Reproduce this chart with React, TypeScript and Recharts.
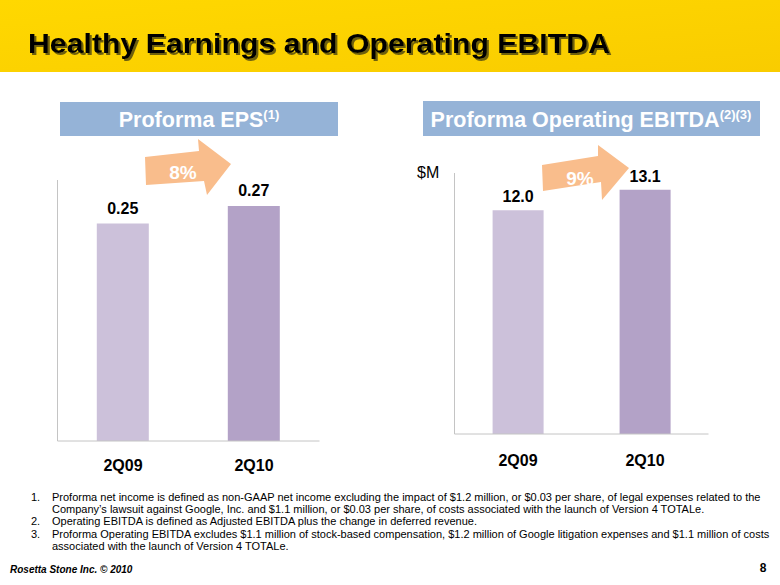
import React from 'react';
import { BarChart, Bar, XAxis, YAxis, Cell, LabelList } from 'recharts';

const categories = ['2Q09', '2Q10'];
const epsValues = [0.25, 0.27];
const ebitdaValues = [12.0, 13.1];
const growthLabels = ['8%', '9%'];
const barColors = ['#ccc1da', '#b3a2c7'];

const footnotes = [
  { num: '1.', text: 'Proforma net income is defined as non-GAAP net income excluding the impact of $1.2 million, or $0.03 per share, of legal expenses related to the' },
  { num: '', text: 'Company\u2019s lawsuit against Google, Inc. and $1.1 million, or $0.03 per share, of costs associated with the launch of Version 4 TOTALe.' },
  { num: '2.', text: 'Operating EBITDA is defined as Adjusted EBITDA plus the change in deferred revenue.' },
  { num: '3.', text: 'Proforma Operating EBITDA excludes $1.1 million of stock-based compensation, $1.2 million of Google litigation expenses and $1.1 million of costs' },
  { num: '', text: 'associated with the launch of Version 4 TOTALe.' },
];

const font = '"Liberation Sans", Arial, sans-serif';

const epsData = categories.map((c, i) => ({ period: c, value: epsValues[i] }));
const ebitdaData = categories.map((c, i) => ({ period: c, value: ebitdaValues[i] }));

const axisColor = '#c4c4c4';

const makeTick = (dy: number) => (props: any) => (
  <text x={props.x} y={props.y} dy={dy} textAnchor="middle" fontFamily={font} fontWeight="bold" fontSize={16} fill="#000">
    {props.payload.value}
  </text>
);

const Slide = () => (
  <svg width={780} height={585} style={{ position: 'absolute', left: 0, top: 0 }}>
    <defs>
      <linearGradient id="hdr" x1="0" y1="0" x2="1" y2="1">
        <stop offset="0" stopColor="#ffd800" />
        <stop offset="1" stopColor="#f9cc00" />
      </linearGradient>
      <filter id="shadow" x="-5%" y="-20%" width="110%" height="150%">
        <feDropShadow dx={2} dy={2} stdDeviation={0.4} floodColor="#6e600c" floodOpacity={1} />
      </filter>
    </defs>
    <rect x={0} y={0} width={780} height={72} fill="url(#hdr)" />
    <text x={28} y={53} fontFamily={font} fontWeight="bold" fontSize={28} fill="#000" textLength={582}
      lengthAdjust="spacingAndGlyphs" filter="url(#shadow)">
      Healthy Earnings and Operating EBITDA
    </text>

    <rect x={60} y={102} width={278} height={34} fill="#95b3d7" />
    <text x={199} y={127} textAnchor="middle" fontFamily={font} fontWeight="bold" fontSize={21.5} fill="#fff">
      Proforma EPS<tspan fontSize={13} dy={-8}>(1)</tspan>
    </text>
    <rect x={423} y={101} width={337} height={35} fill="#95b3d7" />
    <text x={591} y={127} textAnchor="middle" fontFamily={font} fontWeight="bold" fontSize={21.5} fill="#fff">
      Proforma Operating EBITDA<tspan fontSize={13} dy={-8}>(2)(3)</tspan>
    </text>

    <polygon points="145,157 199,151 198,139 231,164 207,195 204,181 146,185" fill="#f9bd8c" />
    <text x={183} y={179} textAnchor="middle" fontFamily={font} fontWeight="bold" fontSize={19} fill="#fff">{growthLabels[0]}</text>
    <polygon points="542,165 598,156 598,145 629,168 602,200 601,182 543,191" fill="#f9bd8c" />
    <text x={580} y={185} textAnchor="middle" fontFamily={font} fontWeight="bold" fontSize={19} fill="#fff">{growthLabels[1]}</text>

    <text x={417} y={178} fontFamily={font} fontSize={16} fill="#000">$M</text>

    {footnotes.map((f, i) => (
      <g key={i} fontFamily={font} fontSize={11} fill="#000">
        {f.num && <text x={31} y={501 + i * 12.2}>{f.num}</text>}
        <text x={52} y={501 + i * 12.2}>{f.text}</text>
      </g>
    ))}

    <text x={10} y={573} fontFamily={font} fontWeight="bold" fontStyle="italic" fontSize={10} fill="#000">
      Rosetta Stone Inc. © 2010
    </text>
    <text x={763} y={572} textAnchor="middle" fontFamily={font} fontWeight="bold" fontSize={12} fill="#000">8</text>
  </svg>
);

const App = () => (
  <div style={{ position: 'absolute', left: 0, top: 0, width: 780, height: 585, background: '#fff', overflow: 'hidden' }}>
    <Slide />
    <div style={{ position: 'absolute', left: 0, top: 0 }}>
      <BarChart width={340} height={500} data={epsData} margin={{ top: 180, left: 56.5, right: 20.5, bottom: 29 }} barCategoryGap="30%">
        <XAxis dataKey="period" height={30} axisLine={{ stroke: axisColor }} tickLine={false} tick={makeTick(12)} tickMargin={12} />
        <YAxis width={1} domain={[0, 0.3]} tick={false} tickLine={false} axisLine={{ stroke: axisColor }} />
        <Bar dataKey="value" isAnimationActive={false}>
          {epsData.map((d, i) => <Cell key={d.period} fill={barColors[i]} />)}
          <LabelList dataKey="value" position="top" offset={10} formatter={(v: any) => Number(v).toFixed(2)}
            style={{ fontFamily: font, fontWeight: 'bold', fontSize: 16, fill: '#000' }} />
        </Bar>
      </BarChart>
    </div>
    <div style={{ position: 'absolute', left: 400, top: 0 }}>
      <BarChart width={340} height={500} data={ebitdaData} margin={{ top: 173, left: 53.5, right: 31.5, bottom: 36 }} barCategoryGap="30%">
        <XAxis dataKey="period" height={30} axisLine={{ stroke: axisColor }} tickLine={false} tick={makeTick(14)} tickMargin={12} />
        <YAxis width={1} domain={[0, 14]} tick={false} tickLine={false} axisLine={{ stroke: axisColor }} />
        <Bar dataKey="value" isAnimationActive={false}>
          {ebitdaData.map((d, i) => <Cell key={d.period} fill={barColors[i]} />)}
          <LabelList dataKey="value" position="top" offset={8} formatter={(v: any) => Number(v).toFixed(1)}
            style={{ fontFamily: font, fontWeight: 'bold', fontSize: 16, fill: '#000' }} />
        </Bar>
      </BarChart>
    </div>
  </div>
);

export default App;
